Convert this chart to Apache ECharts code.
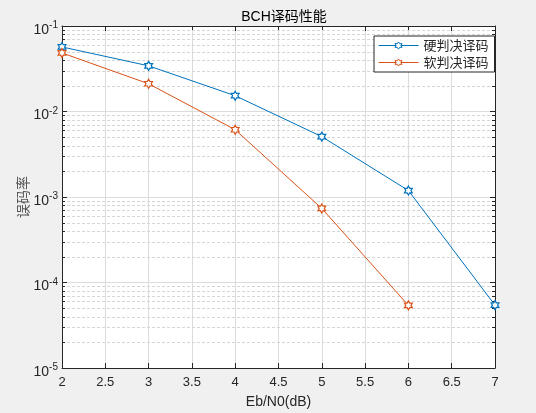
<!DOCTYPE html>
<html><head><meta charset="utf-8">
<script src="https://cdn.jsdelivr.net/npm/echarts@6/dist/echarts.min.js"></script>
<style>html,body{margin:0;padding:0;background:#f0f0f0}#c{width:536px;height:413px}</style>
</head><body><div id="c"></div>
<script>
var ebn0 = [2, 3, 4, 5, 6, 7];
var hardBER = [0.0569, 0.0342, 0.0153, 0.00508, 0.00119, 0.0000543];
var softBER = [0.0484, 0.0211, 0.00612, 0.000735, 0.000054];
var seriesNames = ['硬判决译码', '软判决译码'];
var titleText = 'BCH译码性能';
var xName = 'Eb/N0(dB)';
var yName = '误码率';
var minorVals = [];
for (var e = -5; e <= -2; e++) for (var m = 2; m <= 9; m++) minorVals.push(m * Math.pow(10, e));

var star = 'path://M0 -10 L2.885 -5 L8.66 -5 L5.77 0 L8.66 5 L2.885 5 L0 10 L-2.885 5 L-8.66 5 L-5.77 0 L-8.66 -5 L-2.885 -5 Z';
var axisCol = '#262626';
var font = 'Liberation Sans, Arial, sans-serif';
var cjk = 'Noto Sans CJK SC';

function pairs(xs, ys) { return ys.map(function (v, i) { return [xs[i], v]; }); }

var chart = echarts.init(document.getElementById('c'));
chart.setOption({
  backgroundColor: '#f0f0f0',
  animation: false,
  title: { text: titleText, left: 279, top: 5, textAlign: 'center',
    textStyle: { fontFamily: font + ',' + cjk, fontSize: 14, fontWeight: 'normal', color: '#000' } },
  legend: {
    data: seriesNames, orient: 'vertical', left: 374, top: 36,
    padding: [3, 6, 3, 4], itemGap: 4, itemWidth: 40, itemHeight: 9,
    backgroundColor: '#fff', borderColor: axisCol, borderWidth: 1, borderRadius: 0,
    lineStyle: { width: 1 }, itemStyle: { borderWidth: 1 },
    textStyle: { fontFamily: cjk, fontSize: 13, color: axisCol }
  },
  grid: { left: 62, right: 41, top: 26, bottom: 45, containLabel: false, outerBoundsMode: 'none',
    backgroundColor: '#fff', show: true, borderWidth: 0 },
  xAxis: [{
    type: 'value', min: 2, max: 7, interval: 0.5,
    name: xName, nameLocation: 'middle', nameGap: 27,
    nameTextStyle: { fontFamily: font, fontSize: 14, color: axisCol },
    axisLine: { lineStyle: { color: axisCol } },
    axisTick: { inside: true, length: 5, lineStyle: { color: axisCol } },
    axisLabel: { fontFamily: font, fontSize: 13, color: axisCol, margin: 8 },
    splitLine: { show: true, lineStyle: { color: '#dcdcdc' } }
  }, {
    type: 'value', position: 'top', min: 2, max: 7, interval: 0.5,
    axisLine: { lineStyle: { color: axisCol } },
    axisTick: { inside: true, length: 5, lineStyle: { color: axisCol } },
    axisLabel: { show: false }, splitLine: { show: false }
  }],
  yAxis: [{
    type: 'log', logBase: 10, min: 1e-5, max: 1e-1, interval: 1,
    name: yName, nameLocation: 'middle', nameGap: 32, nameRotate: 90, nameMoveOverlap: false,
    nameTextStyle: { fontFamily: cjk, fontSize: 14, color: '#555' },
    axisLine: { show: true, lineStyle: { color: axisCol } },
    axisTick: { show: true, inside: true, length: 5, lineStyle: { color: axisCol } },
    axisLabel: {
      color: axisCol, margin: 4, padding: [8, 0, 0, 0],
      formatter: function (v) { return '{b|10}{s|' + Math.round(Math.log10(v)) + '}'; },
      rich: { b: { fontFamily: font, fontSize: 14, color: axisCol },
              s: { fontFamily: font, fontSize: 10, color: axisCol, padding: [0, 0, 9, 0] } }
    },
    splitLine: { show: true, lineStyle: { color: '#dcdcdc' } }
  }, {
    type: 'log', logBase: 10, min: 1e-5, max: 1e-1, interval: 1, position: 'right',
    axisLine: { show: true, lineStyle: { color: axisCol } },
    axisTick: { show: true, inside: true, length: 5, lineStyle: { color: axisCol } },
    axisLabel: { show: false }, splitLine: { show: false }
  }],
  series: [{
    type: 'custom', silent: true, z: 1,
    data: minorVals.map(function (v) { return [2, v]; }),
    renderItem: function (params, api) {
      var p0 = api.coord([2, api.value(1)]);
      var p1 = api.coord([7, api.value(1)]);
      var y = Math.round(p0[1]) + 0.5;
      return { type: 'group', children: [
        { type: 'line', shape: { x1: p0[0], y1: y, x2: p1[0], y2: y },
          style: { stroke: '#d6d6d6', lineWidth: 1, lineDash: [3, 2] } },
        { type: 'line', shape: { x1: p0[0], y1: y, x2: p0[0] + 3, y2: y },
          style: { stroke: axisCol, lineWidth: 1 } },
        { type: 'line', shape: { x1: p1[0] - 3, y1: y, x2: p1[0], y2: y },
          style: { stroke: axisCol, lineWidth: 1 } }
      ] };
    }
  }, {
    name: seriesNames[0], type: 'line', z: 3,
    data: pairs(ebn0, hardBER),
    symbol: star, symbolSize: 9, symbolKeepAspect: true,
    lineStyle: { color: '#0072BD', width: 1 },
    itemStyle: { color: '#fff', borderColor: '#0072BD', borderWidth: 1.2 }
  }, {
    name: seriesNames[1], type: 'line', z: 3,
    data: pairs(ebn0, softBER),
    symbol: star, symbolSize: 9, symbolKeepAspect: true,
    lineStyle: { color: '#D95319', width: 1 },
    itemStyle: { color: '#fff', borderColor: '#D95319', borderWidth: 1.2 }
  }]
});
</script></body></html>
